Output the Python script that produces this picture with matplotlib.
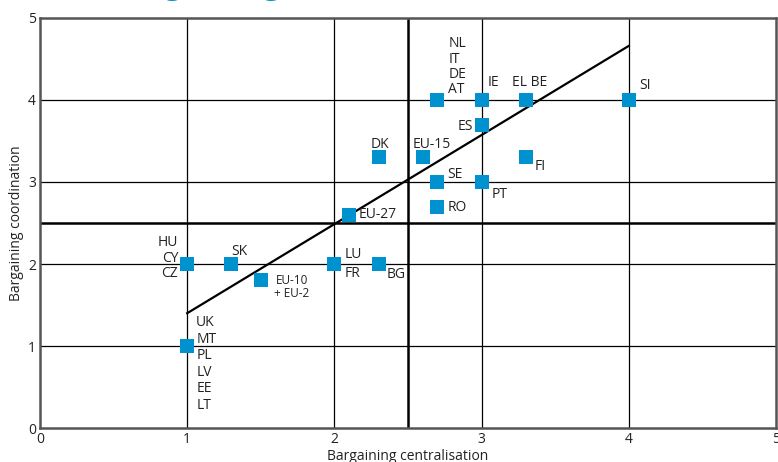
import matplotlib
matplotlib.use('Agg')
import matplotlib.pyplot as plt

plt.rcParams['font.family'] = ['Open Sans', 'DejaVu Sans']

# country / aggregate positions: (centralisation, coordination)
labels = ['NL\nIT\nDE\nAT', 'IE', 'EL BE', 'SI', 'ES', 'DK', 'EU-15', 'FI', 'SE', 'PT',
          'RO', 'EU-27', 'HU\nCY\nCZ', 'SK', 'LU\nFR', 'BG', 'UK\nMT\nPL\nLV\nEE\nLT']
centralisation = [2.7, 3.0, 3.3, 4.0, 3.0, 2.3, 2.6, 3.3, 2.7, 3.0, 2.7, 2.1, 1.0, 1.3, 2.0, 2.3, 1.0]
coordination = [4.0, 4.0, 4.0, 4.0, 3.7, 3.3, 3.3, 3.3, 3.0, 3.0, 2.7, 2.6, 2.0, 2.0, 2.0, 2.0, 1.0]

eu12_x = 1.5
eu12_y = 1.8

# fitted line ends
fit_x = [1.0, 4.0]
fit_y = [1.4, 4.66]

# label placement (pixel offsets, alignment, line spacing)
label_pos = [(11, 3, 'left', 'bottom', 1.02), (6, 10, 'left', 'bottom', 1.0),
             (-14, 10, 'left', 'bottom', 1.0), (10, 7, 'left', 'bottom', 1.0),
             (-9, -2, 'right', 'center', 1.0), (1, 13, 'center', 'center', 1.0),
             (-10, 13, 'left', 'center', 1.0), (9, -9, 'left', 'center', 1.0),
             (10, 7, 'left', 'center', 1.0), (10, -13, 'left', 'center', 1.0),
             (10, -1, 'left', 'center', 1.0), (10, 0, 'left', 'center', 1.0),
             (-9, 6, 'right', 'center', 1.05), (0, 12, 'left', 'center', 1.0),
             (10, 0, 'left', 'center', 1.4), (8, -11, 'left', 'center', 1.0),
             (9, -18, 'left', 'center', 1.13)]

blue = '#0092cf'

fig = plt.figure(figsize=(7.78, 4.62), dpi=100)
ax = fig.add_axes([40 / 778, 34 / 462, 736 / 778, 410 / 462])

ax.set_xlim(0, 5)
ax.set_ylim(0, 5)

for v in [1, 2, 3, 4]:
    ax.axvline(v, color='black', lw=0.9, zorder=1)
    ax.axhline(v, color='black', lw=0.9, zorder=1)
ax.axvline(2.5, color='black', lw=1.8, zorder=1)
ax.axhline(2.5, color='black', lw=1.8, zorder=1)

ax.plot(fit_x, fit_y, color='black', lw=1.6, zorder=2)

ax.plot(centralisation, coordination, 's', color=blue, ms=10, mew=0, zorder=3)
ax.plot([eu12_x], [eu12_y], 's', color=blue, ms=10, mew=0, zorder=3)

for lab, x, y, (dx, dy, ha, va, ls) in zip(labels, centralisation, coordination, label_pos):
    ax.annotate(lab, (x, y), xytext=(dx, dy), textcoords='offset pixels',
                ha=ha, va=va, fontsize=10, color='#222222', linespacing=ls, zorder=4)

ax.annotate('EU-10', (eu12_x, eu12_y), xytext=(15, 0), textcoords='offset pixels',
            ha='left', va='center', fontsize=8.5, color='#222222')
ax.annotate('+ EU-2', (eu12_x, eu12_y), xytext=(13, -13), textcoords='offset pixels',
            ha='left', va='center', fontsize=8.5, color='#222222')

for s in ax.spines.values():
    s.set_color('#555555')
    s.set_linewidth(1.8)

ax.set_xticks([0, 1, 2, 3, 4, 5])
ax.set_yticks([0, 1, 2, 3, 4, 5])
ax.tick_params(length=0, labelsize=10, pad=3, colors='#222222')
ax.set_xlabel('Bargaining centralisation', fontsize=10, labelpad=1, color='#222222')
ax.set_ylabel('Bargaining coordination', fontsize=10, labelpad=3, color='#222222')

# title cut off at the top of the picture
fig.text(109 / 778, 1.0145, 'Bargaining', color=blue, fontsize=23, fontweight='bold',
         ha='left', va='baseline')

fig.savefig('out.png', dpi=100)
